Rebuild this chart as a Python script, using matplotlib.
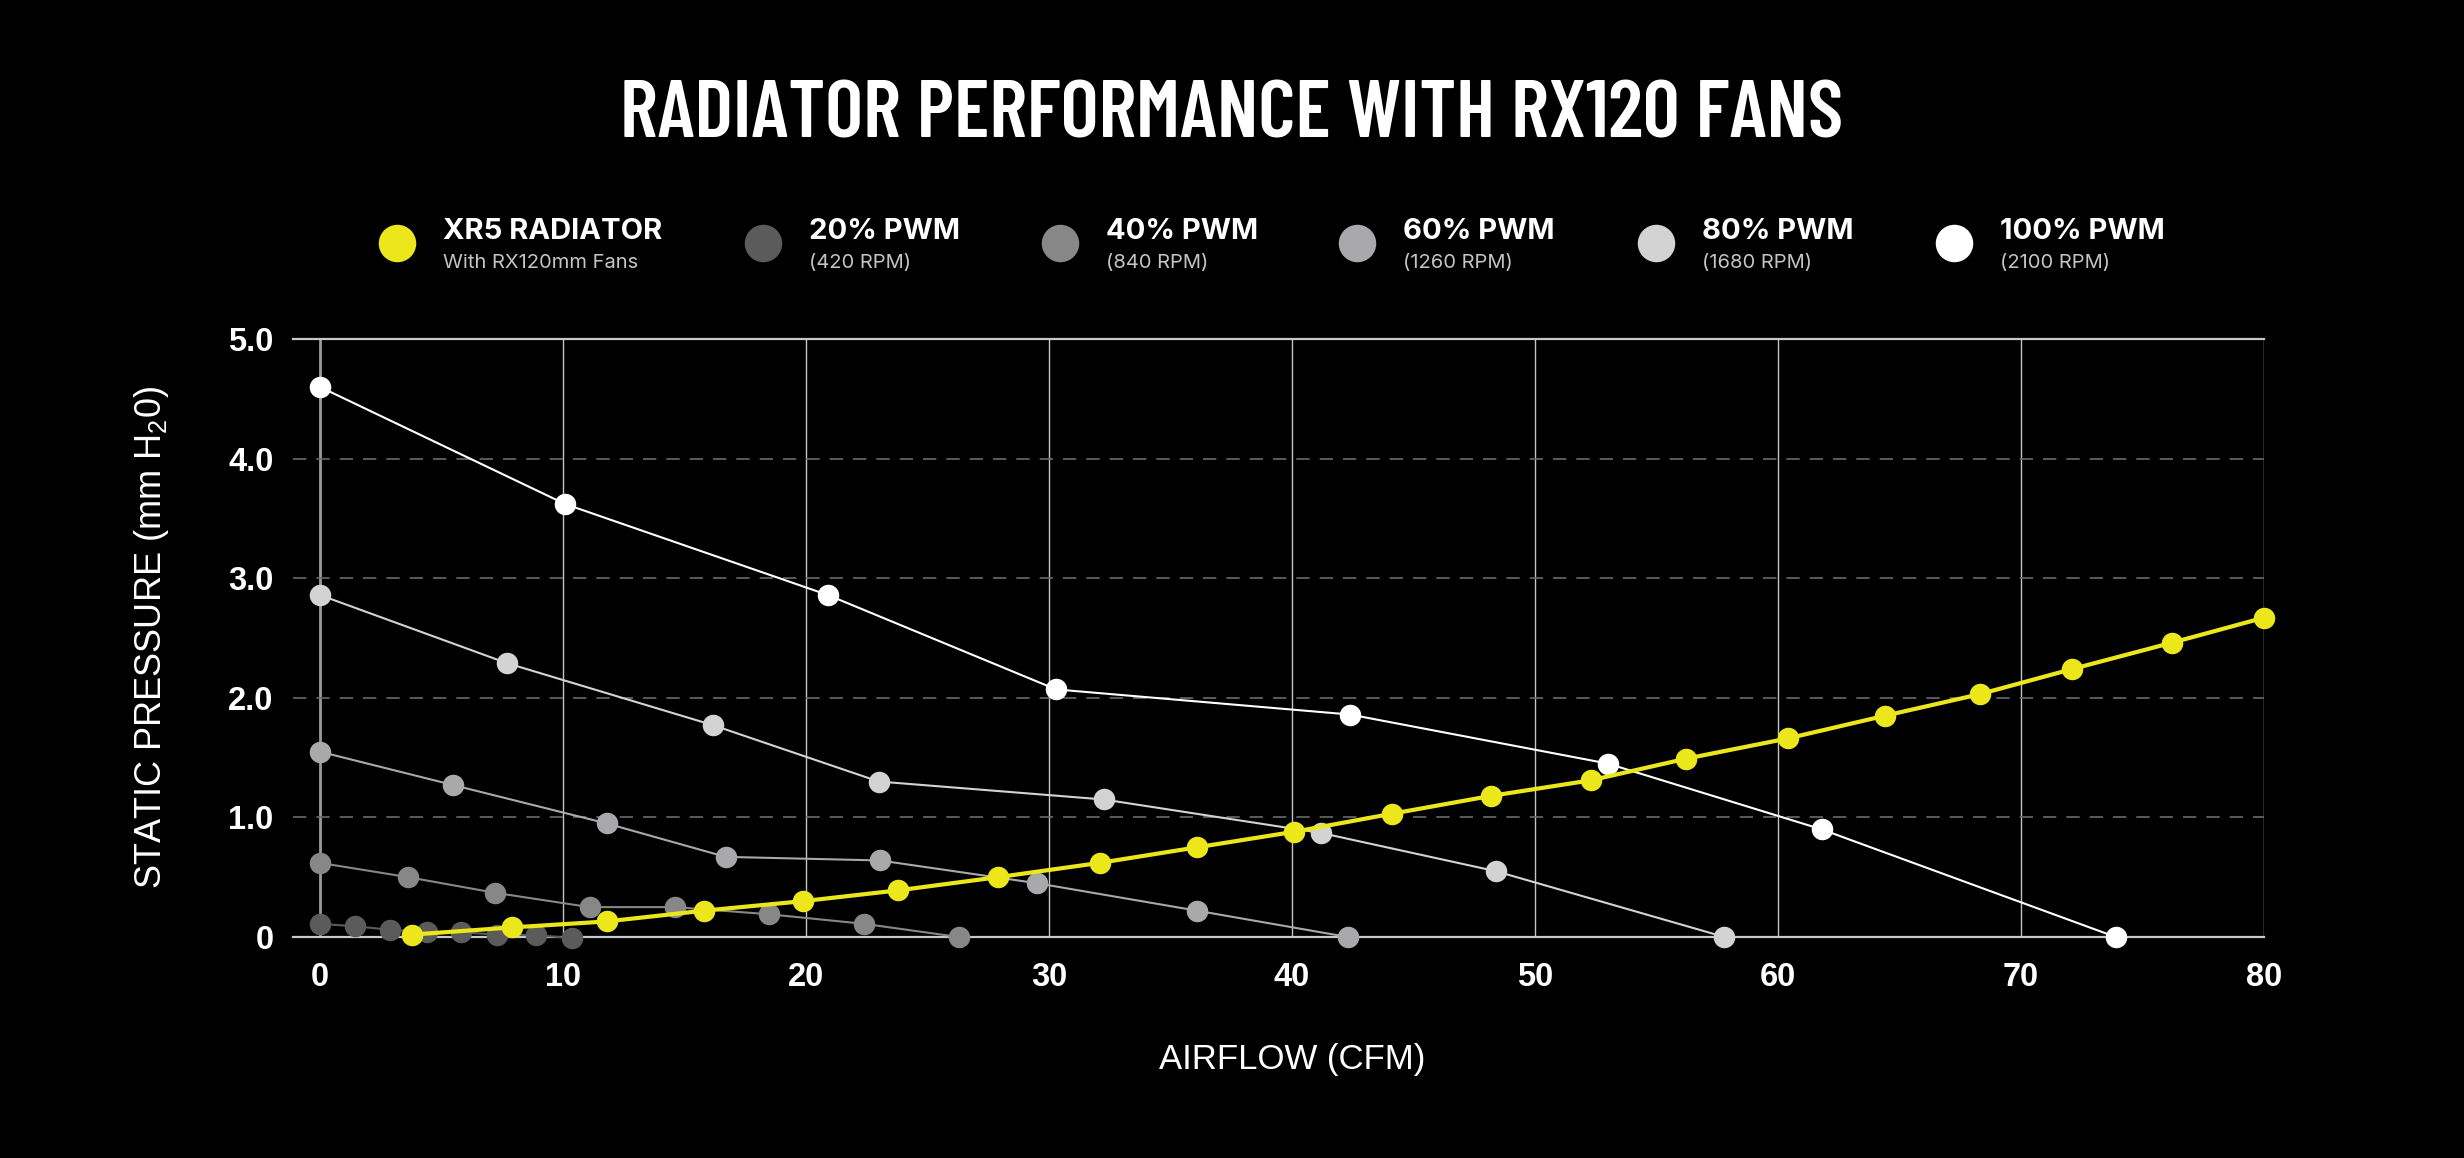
import matplotlib
matplotlib.use("Agg")
import matplotlib.pyplot as plt
from matplotlib import font_manager
from matplotlib.lines import Line2D

# ---- data ----
xr5_x = [3.8, 7.9, 11.8, 15.8, 19.9, 23.8, 27.9, 32.1, 36.1, 40.1,
         44.1, 48.2, 52.3, 56.2, 60.4, 64.4, 68.3, 72.1, 76.2, 80.0]
xr5_y = [0.02, 0.08, 0.13, 0.22, 0.30, 0.39, 0.50, 0.62, 0.75, 0.88,
         1.03, 1.18, 1.31, 1.49, 1.66, 1.85, 2.03, 2.24, 2.46, 2.67]

pwm20_x = [0, 1.45, 2.9, 4.4, 5.8, 7.3, 8.9, 10.4]
pwm20_y = [0.11, 0.09, 0.06, 0.045, 0.04, 0.02, 0.015, -0.01]

pwm40_x = [0, 3.65, 7.2, 11.1, 14.6, 18.5, 22.4, 26.3]
pwm40_y = [0.62, 0.50, 0.37, 0.25, 0.25, 0.19, 0.11, 0.0]

pwm60_x = [0, 5.5, 11.8, 16.7, 23.05, 29.5, 36.1, 42.3]
pwm60_y = [1.55, 1.27, 0.95, 0.67, 0.64, 0.45, 0.22, 0.0]

pwm80_x = [0, 7.7, 16.2, 23.0, 32.25, 41.2, 48.4, 57.8]
pwm80_y = [2.86, 2.29, 1.77, 1.30, 1.15, 0.87, 0.55, 0.0]

pwm100_x = [0, 10.1, 20.9, 30.3, 42.4, 53.0, 61.8, 73.9]
pwm100_y = [4.60, 3.62, 2.86, 2.07, 1.86, 1.45, 0.90, 0.0]

legend_titles = ["XR5 RADIATOR", "20% PWM", "40% PWM", "60% PWM", "80% PWM", "100% PWM"]
legend_subs = ["With RX120mm Fans", "(420 RPM)", "(840 RPM)", "(1260 RPM)", "(1680 RPM)", "(2100 RPM)"]

x_ticks = [0, 10, 20, 30, 40, 50, 60, 70, 80]
y_ticks = [0, 1, 2, 3, 4, 5]
y_ticklabels = ["0", "1.0", "2.0", "3.0", "4.0", "5.0"]

TITLE = "RADIATOR PERFORMANCE WITH RX120 FANS"

YELLOW = "#ece71b"
GRAYS = ["#5b5b5b", "#878787", "#a9a9ab", "#d3d3d3", "#ffffff"]


def first_font(names, fallback="DejaVu Sans"):
    have = {f.name for f in font_manager.fontManager.ttflist}
    for n in names:
        if n in have:
            return n
    return fallback


TITLE_FONT = first_font(["Barlow Condensed", "Oswald", "Bebas Neue", "Roboto Condensed",
                         "Archivo Narrow", "Liberation Sans Narrow"])
BODY_FONT = first_font(["Liberation Sans", "Noto Sans"])
LEG_FONT = first_font(["Inter", "Roboto", "Noto Sans"])

plt.rcParams["font.family"] = [BODY_FONT, "DejaVu Sans"]
plt.rcParams["mathtext.fontset"] = "custom"
plt.rcParams["mathtext.rm"] = BODY_FONT
plt.rcParams["mathtext.it"] = BODY_FONT

W, H = 2464, 1158
fig = plt.figure(figsize=(W / 100, H / 100), dpi=100, facecolor="black")
ax = fig.add_axes([293 / W, 1 - 937 / H, (2264 - 293) / W, (937 - 339) / H])
ax.set_facecolor("black")
ax.set_xlim(-1.1, 80)
ax.set_ylim(0, 5)

# grid
for xv in x_ticks:
    ax.axvline(xv, color="#9a9a9a" if xv == 0 else "#c4c4c4",
               lw=2.0 if xv == 0 else 1.0, zorder=1)
for yv in [1, 2, 3, 4]:
    ax.axhline(yv, color="#6a6a6a", lw=1.2, ls=(0, (8, 6)), zorder=1)

for side in ["left", "right"]:
    ax.spines[side].set_visible(False)
for side in ["top", "bottom"]:
    ax.spines[side].set_color("#c8c8c8")
    ax.spines[side].set_linewidth(1.6)

# series
series = [
    (pwm20_x, pwm20_y, GRAYS[0]),
    (pwm40_x, pwm40_y, GRAYS[1]),
    (pwm60_x, pwm60_y, GRAYS[2]),
    (pwm80_x, pwm80_y, GRAYS[3]),
    (pwm100_x, pwm100_y, GRAYS[4]),
]
for i, (xs, ys, c) in enumerate(series):
    ax.plot(xs, ys, color=c, lw=1.5, marker="o", ms=15.5, mec="none",
            mfc=c, zorder=3 + i, clip_on=False)
ax.plot(xr5_x, xr5_y, color=YELLOW, lw=3.0, marker="o", ms=15.5, mec="none",
        mfc=YELLOW, zorder=10, clip_on=False)

ax.set_xticks(x_ticks)
ax.set_xticklabels([str(v) for v in x_ticks])
ax.set_yticks(y_ticks)
ax.set_yticklabels(y_ticklabels)
ax.tick_params(axis="both", length=0, colors="white", labelsize=23.5)
ax.tick_params(axis="x", pad=18)
ax.tick_params(axis="y", pad=14)
for lab in ax.get_xticklabels() + ax.get_yticklabels():
    lab.set_fontweight("bold")

ax.set_ylabel("STATIC PRESSURE (mm H$_2$0)", color="white", fontsize=26)
ax.yaxis.set_label_coords(-0.062, 0.5)
fig.text(1292 / W, 1 - 1059 / H, "AIRFLOW (CFM)", color="white", fontsize=25,
         ha="center", va="center")

# title, sized so its width matches the reference (~1233 px)
title = fig.text(0.5, 1 - 138 / H, TITLE, color="white", fontsize=56,
                 fontweight="semibold", family=[TITLE_FONT, "DejaVu Sans"],
                 ha="center", va="baseline")
renderer = fig.canvas.get_renderer()
tw = title.get_window_extent(renderer).width
title.set_fontsize(56 * 1225 / tw)

# legend row
leg_cx = [397, 763, 1060, 1357, 1656, 1954]
leg_colors = [YELLOW] + GRAYS
for cx, t, s, c in zip(leg_cx, legend_titles, legend_subs, leg_colors):
    fig.add_artist(Line2D([cx / W], [1 - 243 / H], marker="o", ms=27, mfc=c,
                          mec="none", ls="none", transform=fig.transFigure))
    fig.text((cx + 46) / W, 1 - 239 / H, t, color="white", fontsize=21,
             fontweight="bold", family=[LEG_FONT, "DejaVu Sans"], ha="left", va="baseline")
    fig.text((cx + 46) / W, 1 - 268 / H, s, color="#c4c4c4", fontsize=14.5,
             family=[LEG_FONT, "DejaVu Sans"], ha="left", va="baseline")

fig.savefig("out.png", dpi=100, facecolor="black")
